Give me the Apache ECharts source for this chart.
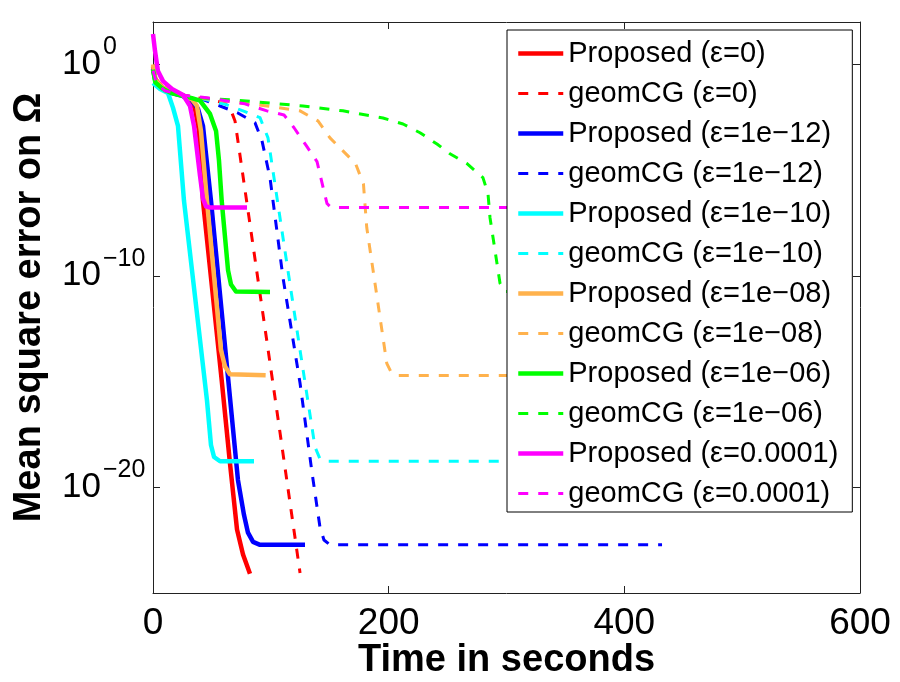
<!DOCTYPE html>
<html><head><meta charset="utf-8">
<script src="https://cdn.jsdelivr.net/npm/echarts@6/dist/echarts.min.js"></script>
<style>html,body{margin:0;padding:0;background:#fff}#c{width:900px;height:682px}</style>
</head><body><div id="c"></div>
<script>
// ---- data (time in seconds, mean square error) ----
const propEps0Time = [0, 2, 8, 15, 25, 32, 35.6, 39, 42.4, 58.3, 65.3, 71.3, 76.4, 82.3];
const propEps0Mse  = [0.79, 0.2, 7.9e-2, 5.0e-2, 3.5e-2, 2.0e-2, 7.9e-3, 7.1e-4, 3.5e-7, 1.15e-15, 1.4e-19, 1e-22, 6.6e-24, 8.1e-25];

const geomEps0Time = [0, 3, 10, 25, 40, 61.1, 67, 69.6, 81.5, 103.5, 124.8];
const geomEps0Mse  = [0.63, 0.14, 6.3e-2, 3.5e-2, 2.5e-2, 1.5e-2, 5.0e-3, 2.1e-3, 5.6e-8, 1.8e-16, 8.9e-25];

const propEps12Time = [0, 2, 8, 15, 25, 33, 38.2, 42.4, 49.2, 63.9, 72.1, 77.2, 80.6, 84.9, 90.8, 129];
const propEps12Mse  = [0.63, 0.16, 7.1e-2, 4.5e-2, 3.2e-2, 2.0e-2, 7.8e-3, 1.23e-3, 3.5e-7, 1.15e-15, 2.2e-20, 5.0e-22, 7.1e-23, 2.6e-23, 1.9e-23, 1.9e-23];

const geomEps12Time = [0, 3, 10, 25, 40, 56.9, 72, 86.6, 92.5, 99.3, 110.3, 124.8, 135, 141.7, 145.1, 150.2, 432];
const geomEps12Mse  = [0.5, 0.13, 5.6e-2, 3.2e-2, 2.4e-2, 1.07e-2, 5.0e-3, 1.7e-3, 2.4e-4, 4.3e-6, 8.3e-11, 8.3e-16, 4.7e-20, 1.3e-22, 3.2e-23, 1.9e-23, 1.9e-23];

const propEps10Time = [0, 6, 12.7, 17, 21.2, 26.3, 45.8, 49.2, 51.8, 56.9, 85.7];
const propEps10Mse  = [0.13, 6.8e-2, 4.4e-2, 8.7e-3, 1.23e-3, 3.5e-7, 1.3e-16, 1e-18, 2.7e-19, 1.7e-19, 1.7e-19];

const geomEps10Time = [0, 3, 10, 25, 40, 61.1, 76.4, 90.8, 97.6, 101.8, 112, 124.8, 137.5, 141.7, 146.8, 430];
const geomEps10Mse  = [0.5, 0.13, 5.6e-2, 3.2e-2, 2.5e-2, 1.3e-2, 6.3e-3, 3.0e-3, 3.3e-4, 9.1e-6, 1.5e-9, 3.0e-14, 7.9e-19, 2.2e-19, 1.7e-19, 1.7e-19];

const propEps8Time = [0, 2, 8, 15, 25, 33, 37.3, 40.7, 45.8, 57.7, 61.1, 65.3, 95.6];
const propEps8Mse  = [1.0, 0.18, 7.9e-2, 5.0e-2, 3.5e-2, 2.2e-2, 1.07e-2, 7.1e-4, 3.5e-7, 3.0e-14, 5.2e-15, 2.2e-15, 2.0e-15];

const geomEps8Time = [0, 3, 10, 25, 40, 70, 96.7, 124.8, 140, 150.2, 161.2, 171.9, 178.6, 181.4, 189.9, 198.4, 202, 207, 430];
const geomEps8Mse  = [0.5, 0.13, 5.6e-2, 3.2e-2, 2.5e-2, 1.6e-2, 1.07e-2, 6.3e-3, 2.1e-3, 3.3e-4, 8.1e-5, 2.0e-5, 2.2e-6, 1.9e-8, 1.2e-11, 7.2e-15, 2.8e-15, 1.9e-15, 1.9e-15];

const propEps6Time = [0, 2, 8, 15, 25, 33, 39.9, 48.4, 53.5, 56, 58.3, 63.7, 66.2, 70.4, 99.3];
const propEps6Mse  = [0.56, 0.14, 7.1e-2, 4.5e-2, 3.2e-2, 2.5e-2, 1.9e-2, 4.5e-3, 7.1e-4, 2.8e-5, 3.5e-7, 1.8e-10, 3.9e-11, 1.8e-11, 1.7e-11];

const geomEps6Time = [0, 3, 10, 25, 39.9, 76.4, 127.3, 161.2, 195.2, 212.2, 226.6, 241, 252, 266.5, 280, 284.3, 286, 290.3, 294.5, 298.7, 430];
const geomEps6Mse  = [0.5, 0.13, 5.6e-2, 3.5e-2, 2.6e-2, 1.9e-2, 1.07e-2, 6.3e-3, 2.9e-3, 1.5e-3, 5.8e-4, 1.7e-4, 5.9e-5, 2.0e-5, 4.4e-6, 7.6e-7, 5.6e-8, 1.5e-9, 4.4e-11, 1.8e-11, 1.7e-11];

const propEps4Time = [0, 1.7, 4.2, 8.5, 16.1, 25.5, 31.4, 34.8, 39.9, 42.4, 45, 48.4, 79.8];
const propEps4Mse  = [27, 4.3, 0.48, 0.16, 6.8e-2, 3.5e-2, 1.07e-2, 1.23e-3, 5.4e-6, 4.5e-7, 1.9e-7, 1.7e-7, 1.7e-7];

const geomEps4Time = [0, 3, 10, 25, 45.8, 78, 96.7, 111.2, 119.7, 129.8, 139.2, 145.1, 147.7, 151, 430];
const geomEps4Mse  = [0.5, 0.13, 5.6e-2, 3.5e-2, 2.6e-2, 1.35e-2, 6.3e-3, 4.0e-3, 1.0e-3, 1.5e-4, 2.5e-5, 1.0e-6, 2.6e-7, 1.7e-7, 1.7e-7];

const seriesNames = [
  'Proposed (ε=0)', 'geomCG (ε=0)',
  'Proposed (ε=1e−12)', 'geomCG (ε=1e−12)',
  'Proposed (ε=1e−10)', 'geomCG (ε=1e−10)',
  'Proposed (ε=1e−08)', 'geomCG (ε=1e−08)',
  'Proposed (ε=1e−06)', 'geomCG (ε=1e−06)',
  'Proposed (ε=0.0001)', 'geomCG (ε=0.0001)'
];
const xTicks = [0, 200, 400, 600];
const yTickValues = [1e-20, 1e-10, 1];

// ---- build chart ----
const times = [propEps0Time, geomEps0Time, propEps12Time, geomEps12Time, propEps10Time, geomEps10Time,
               propEps8Time, geomEps8Time, propEps6Time, geomEps6Time, propEps4Time, geomEps4Time];
const mses = [propEps0Mse, geomEps0Mse, propEps12Mse, geomEps12Mse, propEps10Mse, geomEps10Mse,
              propEps8Mse, geomEps8Mse, propEps6Mse, geomEps6Mse, propEps4Mse, geomEps4Mse];
const colors = ['#ff0000', '#0000ff', '#00ffff', '#ffb24d', '#00ff00', '#ff00ff'];
const FONT = "'Liberation Sans', Arial, Helvetica, sans-serif";

const series = seriesNames.map((name, i) => {
  const dashed = i % 2 === 1;
  return {
    name: name,
    type: 'line',
    xAxisIndex: 0, yAxisIndex: 0,
    data: times[i].map((t, k) => [t, mses[i][k]]),
    showSymbol: false, symbol: 'none',
    lineStyle: {
      color: colors[Math.floor(i / 2)],
      width: dashed ? 3 : 4.5,
      type: dashed ? [10, 10] : 'solid',
      cap: 'butt', join: 'round'
    },
    itemStyle: { color: colors[Math.floor(i / 2)] },
    emphasis: { disabled: true },
    animation: false
  };
});

function supLabel(v) {
  const e = Math.round(Math.log10(v));
  const s = e < 0 ? '−' + (-e) : String(e);
  return '{b|10}{s|' + s + '}';
}

const axisLineStyle = { color: '#222', width: 1 };
const chart = echarts.init(document.getElementById('c'), null, { renderer: 'canvas' });
chart.setOption({
  animation: false,
  backgroundColor: '#fff',
  grid: { left: 153, right: 40, top: 22, bottom: 89, containLabel: false, outerBoundsMode: 'none' },
  legend: {
    data: seriesNames,
    orient: 'vertical',
    left: 507, top: 30,
    backgroundColor: '#fff',
    borderColor: '#000', borderWidth: 1,
    padding: [9, 14, 4, 9],
    itemWidth: 45, itemHeight: 14, itemGap: 11,
    itemStyle: { opacity: 0 },
    lineStyle: { width: 'inherit' },
    textStyle: { fontFamily: FONT, fontSize: 29, lineHeight: 29, color: '#000' },
    selectedMode: false
  },
  xAxis: [{
    type: 'value', min: 0, max: 600, interval: 200, position: 'bottom',
    axisLine: { show: true, onZero: false, lineStyle: axisLineStyle },
    axisTick: { show: true, inside: true, length: 7, lineStyle: axisLineStyle },
    axisLabel: { show: true, fontFamily: FONT, fontSize: 37, color: '#000', margin: 12,
                 customValues: xTicks },
    splitLine: { show: false },
    name: 'Time in seconds', nameLocation: 'middle', nameGap: 49, nameMoveOverlap: false,
    nameTextStyle: { fontFamily: FONT, fontSize: 38, fontWeight: 'bold', color: '#000' }
  }, {
    type: 'value', min: 0, max: 600, interval: 200, position: 'top',
    axisLine: { show: true, onZero: false, lineStyle: axisLineStyle },
    axisTick: { show: true, inside: true, length: 7, lineStyle: axisLineStyle },
    axisLabel: { show: false },
    splitLine: { show: false }
  }],
  yAxis: [{
    type: 'log', logBase: 10, min: 1e-25, max: 1e2, position: 'left',
    axisLine: { show: true, onZero: false, lineStyle: axisLineStyle },
    axisTick: { show: true, inside: true, length: 7, lineStyle: axisLineStyle, customValues: yTickValues },
    minorTick: { show: false },
    axisLabel: {
      show: true, customValues: yTickValues, align: 'left', margin: 91,
      formatter: supLabel,
      rich: {
        b: { fontFamily: FONT, fontSize: 35, color: '#000' },
        s: { fontFamily: FONT, fontSize: 25, color: '#000', padding: [0, 0, 34, 2] }
      }
    },
    splitLine: { show: false },
    name: 'Mean square error on Ω', nameLocation: 'middle', nameGap: 104, nameRotate: 90,
    nameTextStyle: { fontFamily: FONT, fontSize: 38, fontWeight: 'bold', color: '#000' }
  }, {
    type: 'log', logBase: 10, min: 1e-25, max: 1e2, position: 'right',
    axisLine: { show: true, onZero: false, lineStyle: axisLineStyle },
    axisTick: { show: true, inside: true, length: 7, lineStyle: axisLineStyle, customValues: yTickValues },
    minorTick: { show: false },
    axisLabel: { show: false },
    splitLine: { show: false }
  }],
  series: series
});
</script></body></html>
